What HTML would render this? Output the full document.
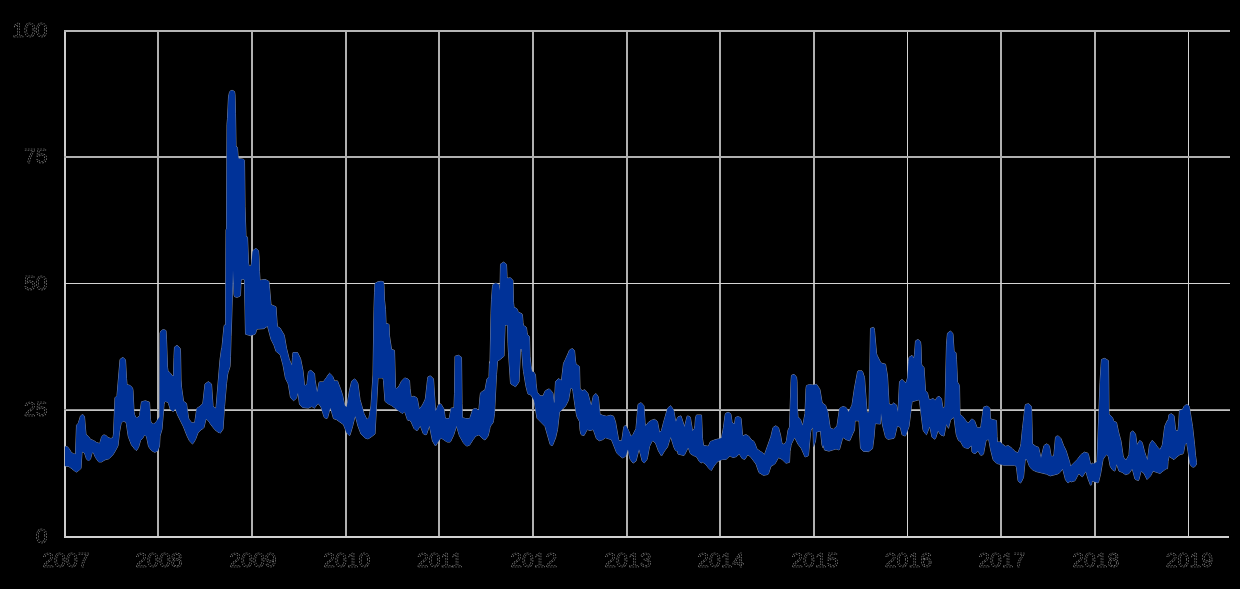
<!DOCTYPE html>
<html><head><meta charset="utf-8"><style>
html,body{margin:0;padding:0;background:#000;width:1240px;height:589px;overflow:hidden}
svg{display:block}
</style></head><body>
<svg width="1240" height="589" viewBox="0 0 1240 589">
<defs><clipPath id="pc"><rect x="65" y="0" width="1175" height="589"/></clipPath></defs>
<rect width="1240" height="589" fill="#000"/>
<rect x="64" y="30" width="2" height="508" fill="rgb(205,205,205)"/><rect x="157" y="30" width="2" height="508" fill="rgb(176,176,176)"/><rect x="251" y="30" width="2" height="508" fill="rgb(176,176,176)"/><rect x="345" y="30" width="2" height="508" fill="rgb(176,176,176)"/><rect x="438" y="30" width="2" height="508" fill="rgb(176,176,176)"/><rect x="532" y="30" width="2" height="508" fill="rgb(176,176,176)"/><rect x="626" y="30" width="2" height="508" fill="rgb(176,176,176)"/><rect x="719" y="30" width="2" height="508" fill="rgb(176,176,176)"/><rect x="813" y="30" width="2" height="508" fill="rgb(176,176,176)"/><rect x="907" y="30" width="1" height="508" fill="rgb(212,212,212)"/><rect x="1000" y="30" width="2" height="508" fill="rgb(176,176,176)"/><rect x="1094" y="30" width="2" height="508" fill="rgb(176,176,176)"/><rect x="1188" y="30" width="1" height="508" fill="rgb(212,212,212)"/><rect x="64" y="30" width="1166" height="2" fill="rgb(182,182,182)"/><rect x="64" y="156" width="1166" height="2" fill="rgb(175,175,175)"/><rect x="64" y="283" width="1166" height="1" fill="rgb(212,212,212)"/><rect x="64" y="409" width="1166" height="1" fill="rgb(150,150,150)"/><rect x="64" y="410" width="1166" height="1" fill="rgb(195,195,195)"/><rect x="64" y="536" width="1165" height="2" fill="rgb(208,208,208)"/>

<path d="M65.0,446.6 L67.0,446.6 L69.0,448.5 L71.0,452.0 L71.5,452.6 L73.5,453.8 L75.5,454.3 L76.5,425.3 L78.0,423.6 L78.5,422.6 L80.5,416.0 L82.5,414.5 L84.0,415.7 L84.5,416.9 L86.0,434.5 L88.5,436.5 L90.5,439.4 L93.5,440.5 L96.5,442.5 L99.5,443.5 L100.0,442.6 L101.5,437.3 L102.0,436.3 L103.5,435.1 L104.0,434.9 L105.5,435.4 L106.0,435.6 L108.0,437.5 L110.5,438.4 L111.0,438.5 L113.0,437.6 L113.5,434.1 L115.0,397.8 L117.0,395.8 L120.0,360.0 L120.5,358.9 L123.0,357.5 L123.5,357.8 L125.5,360.0 L126.5,378.5 L127.0,384.6 L130.0,385.5 L130.5,385.8 L132.5,388.1 L133.0,390.4 L134.0,411.3 L134.5,414.7 L136.0,417.5 L136.5,418.1 L139.0,416.4 L139.5,415.6 L141.5,401.8 L145.5,400.8 L146.0,401.0 L149.5,402.2 L150.5,419.6 L151.0,422.5 L153.5,424.1 L154.0,423.9 L156.5,421.4 L159.5,416.9 L160.0,333.1 L161.0,331.0 L161.5,330.5 L163.5,329.5 L166.0,330.6 L166.5,339.1 L167.5,367.2 L168.0,371.1 L170.0,372.7 L172.5,375.9 L173.5,375.9 L174.0,357.5 L174.5,347.1 L177.0,345.4 L180.0,348.0 L180.5,350.9 L181.0,380.0 L181.5,387.1 L183.5,401.3 L186.5,403.4 L188.5,417.9 L189.0,419.2 L191.5,422.5 L192.0,422.8 L194.5,422.8 L195.0,420.8 L196.5,410.3 L197.0,408.3 L200.0,406.3 L202.5,403.8 L203.0,402.1 L205.0,384.0 L208.0,381.9 L208.5,381.7 L211.5,384.0 L213.0,405.8 L213.5,406.8 L216.0,408.4 L220.0,359.8 L221.5,349.0 L222.0,347.3 L224.0,326.6 L224.5,325.0 L225.5,325.0 L226.0,229.4 L226.5,229.2 L227.0,124.7 L227.5,118.4 L228.5,96.9 L229.5,92.3 L230.0,91.3 L232.0,90.2 L234.5,91.5 L235.0,94.7 L235.5,113.2 L236.0,146.2 L237.0,146.9 L237.5,148.4 L238.0,155.3 L238.5,158.4 L243.5,159.3 L244.5,160.3 L245.0,206.2 L246.0,236.6 L247.5,237.1 L248.5,263.1 L249.0,266.1 L251.0,266.1 L251.5,263.4 L252.5,252.7 L253.0,250.6 L255.5,248.6 L256.0,248.6 L258.5,250.6 L259.0,257.0 L259.5,271.5 L260.0,280.3 L265.0,279.4 L268.5,281.1 L269.0,281.7 L271.0,304.7 L276.0,306.8 L277.0,322.1 L277.5,326.7 L280.0,328.0 L284.0,334.8 L284.5,336.7 L286.5,348.3 L289.0,358.3 L289.5,360.0 L292.0,365.5 L292.5,357.4 L293.0,352.5 L297.5,352.5 L300.5,358.5 L303.0,370.9 L304.5,385.0 L305.0,385.8 L307.0,384.1 L308.0,374.6 L308.5,371.7 L310.5,370.4 L311.0,370.5 L314.5,373.5 L315.0,379.7 L317.0,392.3 L317.5,391.1 L319.0,382.8 L319.5,381.9 L323.0,381.9 L323.5,381.6 L326.5,377.5 L329.0,373.7 L329.5,373.3 L332.5,376.1 L334.5,380.9 L337.5,380.9 L340.5,388.9 L342.5,394.9 L344.5,404.7 L345.0,405.7 L346.5,407.2 L347.0,405.4 L349.5,390.4 L351.5,381.9 L352.0,380.8 L354.5,379.1 L355.0,379.1 L357.5,382.5 L358.0,384.1 L360.0,399.6 L364.0,413.6 L367.0,419.6 L369.0,417.6 L371.0,406.0 L373.0,375.0 L374.0,309.2 L374.5,292.8 L375.0,283.5 L377.5,281.9 L381.0,281.3 L383.5,281.8 L384.0,285.9 L384.5,300.2 L385.5,309.7 L386.0,323.5 L388.5,324.0 L389.0,324.8 L389.5,335.9 L391.5,349.4 L394.5,350.4 L395.5,387.6 L396.0,388.8 L398.5,387.1 L401.5,381.2 L404.5,378.1 L405.0,378.0 L408.0,379.1 L409.5,380.5 L410.0,388.3 L411.0,396.3 L411.5,397.1 L414.0,396.2 L417.0,398.1 L417.5,399.8 L419.0,408.0 L419.5,409.1 L422.5,405.0 L425.0,400.0 L425.5,398.0 L427.5,379.7 L428.0,376.8 L430.5,375.9 L433.5,378.9 L435.5,410.7 L436.0,410.4 L438.5,404.6 L439.0,404.5 L439.5,404.6 L440.5,403.9 L441.0,404.1 L444.0,409.1 L445.0,416.7 L445.5,418.6 L449.0,418.6 L449.5,417.2 L451.0,408.3 L454.0,407.5 L454.5,393.3 L455.0,356.3 L458.5,355.3 L461.5,357.3 L462.0,403.5 L462.5,417.7 L465.5,418.5 L469.5,418.6 L470.0,417.7 L472.5,410.2 L473.0,409.3 L475.5,408.5 L476.0,408.5 L478.5,410.2 L479.0,408.9 L480.0,396.8 L480.5,392.9 L483.0,391.0 L485.0,390.0 L487.0,379.0 L489.0,376.8 L489.5,361.7 L490.0,363.8 L491.0,313.9 L491.5,299.8 L492.5,286.3 L493.0,284.4 L495.5,283.3 L496.0,283.2 L499.0,284.4 L500.0,290.7 L500.5,264.1 L503.5,262.2 L506.0,263.8 L506.5,264.7 L507.0,276.4 L507.5,278.3 L510.5,277.8 L512.5,279.9 L513.0,280.7 L513.5,302.4 L514.0,307.2 L517.0,308.8 L517.5,309.8 L518.0,311.7 L518.5,312.2 L522.0,313.9 L522.5,316.0 L523.0,322.8 L523.5,325.5 L526.0,327.0 L526.5,327.9 L527.0,332.2 L527.5,334.7 L529.0,336.0 L529.5,336.9 L530.0,356.2 L531.0,365.9 L532.0,371.5 L534.0,372.2 L535.5,375.0 L536.0,383.1 L537.0,391.6 L537.5,392.5 L540.0,395.8 L543.0,395.9 L545.0,391.3 L545.5,390.7 L549.0,388.9 L549.5,389.1 L552.5,392.4 L553.0,393.7 L554.0,403.0 L554.5,402.2 L555.5,381.5 L558.5,378.7 L561.0,380.3 L561.5,380.4 L563.5,363.4 L565.5,359.3 L569.5,350.2 L570.0,349.6 L572.5,348.7 L573.0,349.0 L574.5,350.5 L575.5,361.1 L576.0,364.1 L579.5,366.6 L580.0,388.2 L582.0,390.7 L585.0,389.8 L588.0,393.6 L591.0,405.1 L591.5,404.8 L593.0,397.3 L593.5,395.7 L596.0,393.6 L598.0,396.4 L598.5,398.4 L600.0,414.2 L602.5,415.3 L606.5,416.3 L610.5,415.3 L613.5,416.2 L615.5,421.9 L618.5,439.3 L619.0,440.7 L621.5,440.7 L622.0,439.2 L623.5,428.7 L624.0,426.4 L625.5,425.6 L626.0,425.7 L628.5,430.5 L631.0,436.6 L633.0,434.6 L636.0,428.6 L638.0,405.0 L638.5,403.9 L641.0,402.7 L641.5,403.0 L644.0,405.9 L645.0,422.3 L645.5,426.1 L648.5,422.2 L651.5,420.3 L654.5,419.4 L657.0,421.1 L657.5,421.8 L659.5,432.5 L661.5,430.5 L663.5,422.6 L667.5,408.5 L668.0,407.8 L670.5,405.8 L671.0,406.2 L673.5,409.8 L674.0,411.8 L675.5,420.8 L676.0,421.7 L677.5,417.6 L678.0,416.9 L681.0,415.9 L684.5,426.9 L687.0,416.7 L687.5,415.9 L690.0,416.8 L690.5,418.3 L692.5,431.0 L694.5,428.4 L695.0,425.1 L695.5,418.0 L696.5,415.0 L701.5,415.0 L702.5,438.7 L703.5,445.4 L708.0,446.3 L708.5,446.1 L710.0,442.4 L710.5,441.6 L715.0,439.8 L718.5,438.9 L721.5,437.9 L723.5,427.5 L725.0,415.5 L725.5,413.5 L728.0,412.2 L730.5,413.5 L731.0,414.8 L732.0,421.9 L732.5,423.1 L734.5,423.9 L735.5,417.5 L738.0,416.6 L738.5,416.6 L741.0,418.2 L742.5,434.7 L743.0,435.9 L745.5,434.7 L746.0,434.7 L748.5,436.0 L751.5,439.9 L754.0,441.5 L754.5,442.5 L757.0,449.1 L762.5,452.8 L764.5,454.7 L771.0,436.2 L773.0,427.6 L775.5,425.9 L776.0,426.0 L778.5,427.7 L780.5,435.0 L782.0,443.6 L784.0,444.4 L786.0,442.1 L786.5,440.6 L788.0,430.2 L789.5,427.2 L791.0,381.9 L791.5,375.3 L794.0,374.4 L794.5,374.7 L796.5,377.2 L797.0,381.4 L797.5,409.7 L798.0,417.1 L800.0,418.7 L800.5,419.4 L802.5,425.4 L803.0,424.3 L805.0,413.5 L806.0,388.5 L806.5,385.6 L809.5,384.6 L813.0,385.1 L816.5,384.3 L819.5,388.7 L820.0,390.0 L822.0,402.0 L822.5,403.2 L825.5,405.2 L827.5,411.0 L828.0,412.9 L830.0,426.9 L830.5,428.3 L833.5,429.3 L837.0,426.0 L839.5,408.6 L842.5,406.6 L843.0,406.5 L846.0,407.5 L846.5,408.1 L848.5,412.1 L852.0,405.1 L854.5,388.0 L857.5,372.0 L858.0,370.9 L862.0,370.9 L862.5,371.5 L864.5,377.5 L867.0,412.2 L869.0,412.2 L870.5,328.4 L873.5,327.4 L874.0,327.9 L874.5,330.4 L876.5,353.4 L877.0,355.2 L880.0,361.2 L881.0,362.7 L881.5,363.2 L885.5,364.2 L887.5,376.0 L889.0,404.0 L892.0,405.0 L893.0,403.4 L893.5,403.0 L896.5,405.0 L898.0,412.2 L899.5,381.8 L902.0,379.3 L904.5,382.0 L906.0,382.9 L907.5,377.9 L908.5,361.7 L909.0,357.4 L912.0,355.4 L914.0,358.3 L914.5,354.7 L915.5,340.9 L918.0,339.5 L920.5,341.7 L921.0,346.2 L921.5,363.7 L922.0,365.7 L924.0,367.3 L925.5,390.9 L927.5,392.9 L929.0,399.3 L929.5,399.6 L931.0,399.5 L933.0,398.5 L935.0,400.4 L935.5,400.2 L937.0,397.4 L939.0,396.4 L939.5,396.5 L941.0,398.0 L941.5,398.9 L943.0,408.4 L945.0,406.4 L946.5,344.1 L947.5,333.2 L950.0,331.3 L950.5,331.2 L952.5,332.9 L953.0,334.4 L954.0,350.4 L954.5,351.4 L956.0,352.9 L956.5,359.8 L957.5,382.1 L959.5,385.5 L960.0,414.6 L962.5,416.3 L966.0,420.9 L968.0,422.9 L968.5,423.0 L971.5,419.2 L972.0,419.0 L974.5,420.8 L977.0,427.4 L977.5,427.8 L980.5,427.8 L981.0,425.4 L983.5,407.2 L987.0,406.1 L989.5,407.8 L990.0,408.9 L990.5,418.9 L996.5,420.6 L997.0,436.4 L997.5,442.0 L1000.0,442.0 L1000.5,442.2 L1003.0,444.7 L1005.5,446.4 L1008.0,445.7 L1008.5,445.7 L1012.0,448.4 L1015.5,451.9 L1018.0,452.7 L1020.5,446.4 L1021.0,443.6 L1022.5,428.6 L1025.0,406.8 L1025.5,404.5 L1028.5,403.8 L1029.0,403.9 L1031.5,406.5 L1032.5,443.9 L1036.0,446.5 L1038.5,447.3 L1041.0,457.9 L1044.0,445.6 L1046.5,443.9 L1047.0,444.1 L1049.0,445.4 L1049.5,446.7 L1051.0,455.7 L1051.5,456.3 L1053.5,456.3 L1054.0,453.9 L1055.5,437.4 L1056.0,436.5 L1058.0,435.9 L1058.5,436.1 L1061.0,438.7 L1063.5,445.4 L1066.0,450.4 L1069.5,461.8 L1070.5,466.3 L1077.5,459.3 L1081.0,454.6 L1084.5,452.2 L1088.0,453.3 L1088.5,454.7 L1090.5,463.7 L1091.0,464.3 L1091.5,464.6 L1092.0,462.9 L1093.5,463.9 L1097.0,461.7 L1100.0,382.7 L1101.0,366.1 L1101.5,359.5 L1104.5,358.4 L1105.0,358.5 L1108.5,360.7 L1109.0,414.1 L1112.5,417.6 L1113.5,420.5 L1114.0,421.3 L1116.5,422.4 L1118.5,431.9 L1121.0,441.2 L1123.0,455.2 L1123.5,457.2 L1126.0,460.3 L1129.0,454.8 L1130.5,432.9 L1132.5,430.9 L1133.0,431.0 L1135.5,434.2 L1137.0,444.9 L1139.5,440.8 L1140.0,440.4 L1142.0,442.4 L1142.5,443.7 L1144.5,451.7 L1147.0,459.1 L1147.5,460.0 L1149.5,444.7 L1152.0,440.5 L1152.5,440.6 L1155.5,444.1 L1157.5,447.1 L1160.0,449.7 L1162.0,445.8 L1162.5,444.2 L1164.5,428.2 L1165.0,425.5 L1167.5,420.2 L1168.0,420.8 L1169.0,414.6 L1171.5,413.8 L1174.0,415.7 L1175.5,429.2 L1176.0,430.8 L1178.0,430.8 L1178.5,426.1 L1179.5,410.4 L1182.5,409.5 L1184.0,406.5 L1184.5,405.9 L1186.5,404.6 L1187.0,404.6 L1189.0,406.0 L1189.5,407.6 L1192.5,426.4 L1194.5,444.2 L1195.5,455.4 L1196.5,462.6 L1196.5,464.0 L1195.0,466.5 L1193.0,467.2 L1192.5,467.1 L1190.5,465.1 L1190.0,464.0 L1187.0,444.6 L1186.5,442.9 L1185.0,444.5 L1183.5,452.7 L1183.0,453.8 L1180.0,454.5 L1176.5,457.1 L1174.0,459.6 L1169.0,456.3 L1168.0,461.6 L1167.5,468.7 L1166.0,468.7 L1160.0,473.4 L1153.0,471.1 L1150.5,475.9 L1147.0,479.4 L1144.0,473.3 L1141.5,471.4 L1141.0,471.2 L1139.0,479.2 L1138.5,480.5 L1135.5,479.5 L1135.0,479.0 L1132.5,469.6 L1132.0,469.1 L1129.0,473.5 L1125.5,474.6 L1122.0,472.2 L1119.0,471.1 L1117.0,465.2 L1116.5,464.3 L1115.0,470.8 L1114.5,470.9 L1112.5,469.8 L1110.5,466.8 L1110.0,465.3 L1108.5,456.8 L1107.0,454.9 L1106.5,454.6 L1104.5,457.1 L1103.0,459.5 L1100.5,474.2 L1098.5,482.2 L1098.0,482.8 L1092.0,481.1 L1091.5,484.8 L1090.5,485.2 L1088.0,478.8 L1086.0,471.8 L1085.5,471.7 L1082.5,476.7 L1082.0,476.8 L1079.0,473.8 L1078.5,473.9 L1075.0,480.7 L1071.5,481.8 L1070.0,481.3 L1068.0,483.0 L1065.5,479.7 L1063.0,470.0 L1062.5,469.0 L1060.0,472.4 L1057.5,474.0 L1050.5,475.8 L1050.0,475.8 L1046.5,474.1 L1036.0,471.5 L1032.5,469.7 L1030.0,467.3 L1029.5,466.4 L1027.0,459.8 L1025.5,459.1 L1025.0,461.7 L1023.5,477.4 L1021.0,482.6 L1020.5,482.8 L1018.5,481.5 L1018.0,480.2 L1016.5,467.4 L1016.0,465.9 L1014.5,465.2 L1004.0,465.2 L997.0,463.5 L996.5,463.2 L993.5,460.2 L993.0,459.2 L990.5,449.2 L989.0,440.9 L988.5,439.4 L986.5,440.1 L986.0,440.5 L983.5,453.8 L983.0,454.6 L981.0,455.3 L980.5,455.1 L978.0,451.0 L975.5,453.5 L975.0,453.5 L973.0,452.8 L972.5,452.5 L972.0,451.8 L971.5,445.5 L968.5,448.3 L968.0,448.4 L964.0,447.4 L963.5,446.9 L960.0,440.7 L959.5,441.2 L958.5,440.5 L956.5,435.6 L956.0,433.0 L954.0,417.3 L951.0,419.3 L950.5,420.3 L948.5,428.3 L946.5,424.3 L946.0,425.5 L944.0,436.0 L941.0,435.0 L940.5,434.5 L938.0,430.7 L935.5,438.5 L935.0,439.2 L932.0,437.2 L930.0,427.5 L929.5,426.7 L926.5,434.7 L926.0,434.4 L923.5,431.0 L923.0,429.7 L919.5,401.0 L919.0,399.7 L912.5,401.6 L912.0,402.1 L909.0,426.5 L905.5,435.8 L905.0,435.9 L902.5,435.1 L902.0,434.5 L900.5,427.9 L900.0,427.1 L897.5,426.2 L897.0,427.1 L894.5,437.7 L894.0,438.3 L888.0,439.3 L887.5,439.1 L885.5,437.0 L882.5,425.0 L881.0,413.0 L880.5,424.0 L875.5,423.5 L875.0,424.8 L874.0,437.2 L872.5,448.7 L868.5,451.6 L863.5,451.3 L863.0,451.1 L860.5,448.0 L859.0,420.8 L855.0,420.8 L854.5,430.1 L853.0,433.1 L850.0,440.1 L849.5,440.8 L846.0,439.5 L843.0,437.5 L842.5,438.5 L839.5,449.5 L839.0,449.9 L836.0,448.9 L829.0,451.1 L824.5,450.0 L823.5,444.9 L823.0,447.7 L822.0,445.0 L820.5,431.0 L816.5,432.0 L815.5,441.0 L813.5,447.0 L813.0,427.4 L811.0,430.1 L810.5,432.7 L808.5,454.7 L808.0,455.9 L805.0,456.9 L801.5,448.8 L798.0,444.1 L795.0,438.1 L794.5,437.7 L791.5,443.7 L791.0,445.5 L790.0,451.5 L789.5,462.3 L786.0,463.2 L782.0,459.3 L778.5,457.6 L775.0,463.7 L774.5,464.2 L771.0,466.1 L768.5,473.6 L768.0,474.4 L763.5,475.3 L759.0,472.6 L756.0,464.0 L750.5,456.7 L750.0,456.3 L748.0,455.0 L747.5,455.0 L745.0,459.2 L744.5,459.3 L742.0,458.4 L739.5,454.2 L739.0,454.1 L736.5,456.6 L736.0,456.7 L733.0,457.5 L732.5,457.4 L730.0,455.8 L726.0,459.4 L722.5,459.4 L719.5,460.5 L717.0,462.1 L716.5,462.7 L714.0,466.0 L711.5,470.2 L711.0,470.4 L708.5,467.9 L705.5,464.0 L702.0,461.7 L701.5,463.0 L699.5,461.7 L696.5,456.8 L696.0,456.4 L693.5,455.6 L690.5,453.7 L690.0,452.7 L688.5,448.2 L688.0,447.8 L684.5,454.8 L684.0,455.5 L678.0,454.0 L677.5,450.9 L676.0,450.9 L675.5,450.4 L674.0,447.4 L671.0,437.8 L670.5,437.2 L667.5,447.0 L664.5,451.0 L661.5,456.0 L658.5,451.0 L655.5,443.0 L655.0,442.5 L652.5,440.8 L652.0,441.4 L649.5,446.4 L647.5,457.5 L647.0,459.4 L644.5,462.7 L644.0,462.9 L642.5,461.4 L642.0,460.5 L639.5,450.5 L639.0,449.3 L636.0,461.1 L633.0,463.1 L630.0,459.1 L628.0,449.4 L627.5,450.3 L626.0,455.5 L625.5,456.2 L623.0,457.9 L622.5,457.8 L620.0,456.2 L617.0,453.2 L616.5,452.4 L611.5,439.7 L605.5,437.7 L602.5,439.7 L599.5,440.7 L599.0,440.5 L596.5,438.8 L593.5,430.2 L593.0,429.6 L590.0,430.5 L587.5,429.6 L587.0,429.9 L584.0,435.6 L581.5,434.8 L581.0,434.4 L580.0,429.7 L579.5,421.5 L577.0,416.8 L576.5,414.8 L575.0,405.8 L573.0,391.3 L572.5,388.7 L571.0,388.0 L570.5,388.6 L568.5,400.2 L565.5,406.1 L559.5,412.1 L557.5,429.6 L555.5,438.1 L552.5,445.4 L552.0,445.7 L550.5,444.9 L550.0,443.9 L545.0,426.3 L537.0,418.2 L534.0,400.2 L531.0,395.0 L528.0,393.9 L527.5,392.4 L526.0,386.4 L523.5,371.4 L523.0,366.9 L522.0,352.6 L521.5,349.1 L520.5,349.1 L519.0,381.8 L516.0,386.2 L515.5,386.7 L511.0,384.0 L510.5,382.9 L508.5,352.9 L508.0,343.2 L507.5,325.2 L507.0,325.0 L505.5,325.0 L505.0,326.6 L504.0,356.2 L500.5,359.1 L497.5,361.2 L496.5,374.3 L494.5,413.4 L493.5,420.5 L493.0,422.7 L490.5,426.0 L490.0,427.0 L489.5,430.2 L488.0,436.0 L485.0,440.0 L482.0,438.0 L479.0,435.0 L478.5,435.0 L476.0,435.9 L475.5,436.3 L473.0,439.7 L469.5,445.2 L467.0,446.0 L466.5,446.0 L463.5,442.9 L459.5,435.9 L456.5,426.0 L453.5,435.5 L450.5,441.7 L450.0,442.0 L447.5,442.0 L447.0,441.9 L441.5,438.2 L441.0,438.1 L440.0,439.5 L439.5,439.5 L435.5,446.0 L432.5,441.0 L429.5,426.0 L429.0,427.0 L426.5,434.5 L426.0,434.8 L423.5,433.9 L423.0,433.0 L420.5,426.3 L420.0,426.2 L417.5,430.3 L417.0,430.7 L414.5,429.0 L414.0,428.4 L411.0,421.6 L410.0,420.9 L409.5,419.8 L408.0,420.5 L407.5,419.9 L405.0,412.4 L404.5,411.7 L403.0,413.2 L402.5,413.4 L399.5,411.4 L391.5,405.4 L387.5,403.4 L385.0,401.3 L383.5,380.5 L383.0,377.9 L378.5,377.9 L378.0,378.3 L375.0,434.0 L371.0,437.0 L368.0,438.9 L365.0,437.9 L361.0,434.0 L358.0,426.1 L355.5,416.6 L355.0,416.4 L352.5,426.6 L350.0,435.0 L349.5,435.7 L347.0,433.2 L346.5,432.4 L343.5,424.6 L336.5,419.6 L333.5,418.6 L330.5,407.9 L330.0,408.7 L327.5,417.9 L327.0,418.5 L324.5,417.7 L324.0,416.7 L321.0,407.1 L318.5,403.8 L318.0,403.5 L315.0,407.3 L314.5,408.2 L312.0,406.6 L311.5,406.6 L308.5,408.1 L303.0,407.5 L302.5,407.4 L299.5,404.3 L298.0,393.0 L297.5,393.9 L296.5,398.2 L293.5,400.7 L290.5,397.5 L288.5,385.2 L288.0,383.4 L285.5,378.4 L283.0,364.9 L280.5,355.7 L280.0,354.4 L276.5,351.8 L276.0,351.2 L274.0,345.2 L271.0,339.2 L267.5,326.1 L264.0,328.6 L257.0,329.1 L256.5,330.0 L255.5,333.5 L255.0,334.3 L250.5,335.6 L245.5,334.2 L244.5,279.9 L244.0,279.3 L241.5,279.3 L241.0,281.5 L240.5,294.7 L240.0,296.2 L237.0,297.3 L234.5,296.6 L234.0,294.6 L233.0,270.0 L231.5,325.0 L231.0,336.7 L230.5,356.7 L230.0,366.6 L228.0,372.7 L227.5,375.0 L226.5,383.5 L224.5,406.5 L223.0,429.1 L220.5,432.8 L220.0,433.2 L219.5,432.6 L219.0,432.8 L215.0,429.8 L211.0,424.8 L208.5,420.9 L206.0,418.8 L204.0,427.3 L203.5,428.1 L201.0,429.8 L198.0,432.7 L195.5,439.4 L193.0,443.6 L192.5,444.0 L189.5,440.8 L187.0,435.8 L183.5,426.8 L177.5,414.8 L175.5,408.9 L175.0,409.1 L173.5,411.3 L173.0,411.3 L170.5,409.7 L170.0,408.6 L168.5,403.3 L168.0,402.3 L165.5,401.5 L165.0,401.6 L164.5,402.1 L164.0,404.5 L162.0,429.3 L160.0,436.0 L159.5,446.0 L158.0,450.1 L157.5,450.9 L155.0,452.2 L154.5,452.2 L151.5,450.5 L149.0,447.2 L148.5,446.2 L146.5,436.4 L144.5,434.9 L142.5,438.5 L140.5,440.5 L138.5,447.4 L136.5,450.5 L136.0,450.3 L134.5,448.8 L131.5,444.9 L128.5,437.2 L128.0,434.9 L126.5,424.4 L126.0,422.1 L123.5,421.3 L123.0,421.3 L121.5,422.8 L121.0,423.8 L119.5,432.2 L118.0,445.7 L116.0,449.7 L113.0,454.7 L109.0,458.7 L105.0,459.8 L101.5,461.9 L99.0,461.9 L98.5,461.7 L95.5,457.5 L93.5,452.7 L92.5,452.4 L92.0,453.1 L90.5,458.9 L88.5,460.9 L86.5,458.9 L84.5,452.9 L82.0,451.7 L81.0,468.2 L79.5,469.9 L76.5,472.0 L76.0,471.9 L69.0,466.6 L65.0,466.0Z" fill="#003298" stroke="#8f96a8" stroke-width="0.9" stroke-linejoin="round"/><path d="M65.0,446.6 L67.0,446.6 L69.0,448.5 L71.0,452.0 L71.5,452.6 L73.5,453.8 L75.5,454.3 L76.5,425.3 L78.0,423.6 L78.5,422.6 L80.5,416.0 L82.5,414.5 L84.0,415.7 L84.5,416.9 L86.0,434.5 L88.5,436.5 L90.5,439.4 L93.5,440.5 L96.5,442.5 L99.5,443.5 L100.0,442.6 L101.5,437.3 L102.0,436.3 L103.5,435.1 L104.0,434.9 L105.5,435.4 L106.0,435.6 L108.0,437.5 L110.5,438.4 L111.0,438.5 L113.0,437.6 L113.5,434.1 L115.0,397.8 L117.0,395.8 L120.0,360.0 L120.5,358.9 L123.0,357.5 L123.5,357.8 L125.5,360.0 L126.5,378.5 L127.0,384.6 L130.0,385.5 L130.5,385.8 L132.5,388.1 L133.0,390.4 L134.0,411.3 L134.5,414.7 L136.0,417.5 L136.5,418.1 L139.0,416.4 L139.5,415.6 L141.5,401.8 L145.5,400.8 L146.0,401.0 L149.5,402.2 L150.5,419.6 L151.0,422.5 L153.5,424.1 L154.0,423.9 L156.5,421.4 L159.5,416.9 L160.0,333.1 L161.0,331.0 L161.5,330.5 L163.5,329.5 L166.0,330.6 L166.5,339.1 L167.5,367.2 L168.0,371.1 L170.0,372.7 L172.5,375.9 L173.5,375.9 L174.0,357.5 L174.5,347.1 L177.0,345.4 L180.0,348.0 L180.5,350.9 L181.0,380.0 L181.5,387.1 L183.5,401.3 L186.5,403.4 L188.5,417.9 L189.0,419.2 L191.5,422.5 L192.0,422.8 L194.5,422.8 L195.0,420.8 L196.5,410.3 L197.0,408.3 L200.0,406.3 L202.5,403.8 L203.0,402.1 L205.0,384.0 L208.0,381.9 L208.5,381.7 L211.5,384.0 L213.0,405.8 L213.5,406.8 L216.0,408.4 L220.0,359.8 L221.5,349.0 L222.0,347.3 L224.0,326.6 L224.5,325.0 L225.5,325.0 L226.0,229.4 L226.5,229.2 L227.0,124.7 L227.5,118.4 L228.5,96.9 L229.5,92.3 L230.0,91.3 L232.0,90.2 L234.5,91.5 L235.0,94.7 L235.5,113.2 L236.0,146.2 L237.0,146.9 L237.5,148.4 L238.0,155.3 L238.5,158.4 L243.5,159.3 L244.5,160.3 L245.0,206.2 L246.0,236.6 L247.5,237.1 L248.5,263.1 L249.0,266.1 L251.0,266.1 L251.5,263.4 L252.5,252.7 L253.0,250.6 L255.5,248.6 L256.0,248.6 L258.5,250.6 L259.0,257.0 L259.5,271.5 L260.0,280.3 L265.0,279.4 L268.5,281.1 L269.0,281.7 L271.0,304.7 L276.0,306.8 L277.0,322.1 L277.5,326.7 L280.0,328.0 L284.0,334.8 L284.5,336.7 L286.5,348.3 L289.0,358.3 L289.5,360.0 L292.0,365.5 L292.5,357.4 L293.0,352.5 L297.5,352.5 L300.5,358.5 L303.0,370.9 L304.5,385.0 L305.0,385.8 L307.0,384.1 L308.0,374.6 L308.5,371.7 L310.5,370.4 L311.0,370.5 L314.5,373.5 L315.0,379.7 L317.0,392.3 L317.5,391.1 L319.0,382.8 L319.5,381.9 L323.0,381.9 L323.5,381.6 L326.5,377.5 L329.0,373.7 L329.5,373.3 L332.5,376.1 L334.5,380.9 L337.5,380.9 L340.5,388.9 L342.5,394.9 L344.5,404.7 L345.0,405.7 L346.5,407.2 L347.0,405.4 L349.5,390.4 L351.5,381.9 L352.0,380.8 L354.5,379.1 L355.0,379.1 L357.5,382.5 L358.0,384.1 L360.0,399.6 L364.0,413.6 L367.0,419.6 L369.0,417.6 L371.0,406.0 L373.0,375.0 L374.0,309.2 L374.5,292.8 L375.0,283.5 L377.5,281.9 L381.0,281.3 L383.5,281.8 L384.0,285.9 L384.5,300.2 L385.5,309.7 L386.0,323.5 L388.5,324.0 L389.0,324.8 L389.5,335.9 L391.5,349.4 L394.5,350.4 L395.5,387.6 L396.0,388.8 L398.5,387.1 L401.5,381.2 L404.5,378.1 L405.0,378.0 L408.0,379.1 L409.5,380.5 L410.0,388.3 L411.0,396.3 L411.5,397.1 L414.0,396.2 L417.0,398.1 L417.5,399.8 L419.0,408.0 L419.5,409.1 L422.5,405.0 L425.0,400.0 L425.5,398.0 L427.5,379.7 L428.0,376.8 L430.5,375.9 L433.5,378.9 L435.5,410.7 L436.0,410.4 L438.5,404.6 L439.0,404.5 L439.5,404.6 L440.5,403.9 L441.0,404.1 L444.0,409.1 L445.0,416.7 L445.5,418.6 L449.0,418.6 L449.5,417.2 L451.0,408.3 L454.0,407.5 L454.5,393.3 L455.0,356.3 L458.5,355.3 L461.5,357.3 L462.0,403.5 L462.5,417.7 L465.5,418.5 L469.5,418.6 L470.0,417.7 L472.5,410.2 L473.0,409.3 L475.5,408.5 L476.0,408.5 L478.5,410.2 L479.0,408.9 L480.0,396.8 L480.5,392.9 L483.0,391.0 L485.0,390.0 L487.0,379.0 L489.0,376.8 L489.5,361.7 L490.0,363.8 L491.0,313.9 L491.5,299.8 L492.5,286.3 L493.0,284.4 L495.5,283.3 L496.0,283.2 L499.0,284.4 L500.0,290.7 L500.5,264.1 L503.5,262.2 L506.0,263.8 L506.5,264.7 L507.0,276.4 L507.5,278.3 L510.5,277.8 L512.5,279.9 L513.0,280.7 L513.5,302.4 L514.0,307.2 L517.0,308.8 L517.5,309.8 L518.0,311.7 L518.5,312.2 L522.0,313.9 L522.5,316.0 L523.0,322.8 L523.5,325.5 L526.0,327.0 L526.5,327.9 L527.0,332.2 L527.5,334.7 L529.0,336.0 L529.5,336.9 L530.0,356.2 L531.0,365.9 L532.0,371.5 L534.0,372.2 L535.5,375.0 L536.0,383.1 L537.0,391.6 L537.5,392.5 L540.0,395.8 L543.0,395.9 L545.0,391.3 L545.5,390.7 L549.0,388.9 L549.5,389.1 L552.5,392.4 L553.0,393.7 L554.0,403.0 L554.5,402.2 L555.5,381.5 L558.5,378.7 L561.0,380.3 L561.5,380.4 L563.5,363.4 L565.5,359.3 L569.5,350.2 L570.0,349.6 L572.5,348.7 L573.0,349.0 L574.5,350.5 L575.5,361.1 L576.0,364.1 L579.5,366.6 L580.0,388.2 L582.0,390.7 L585.0,389.8 L588.0,393.6 L591.0,405.1 L591.5,404.8 L593.0,397.3 L593.5,395.7 L596.0,393.6 L598.0,396.4 L598.5,398.4 L600.0,414.2 L602.5,415.3 L606.5,416.3 L610.5,415.3 L613.5,416.2 L615.5,421.9 L618.5,439.3 L619.0,440.7 L621.5,440.7 L622.0,439.2 L623.5,428.7 L624.0,426.4 L625.5,425.6 L626.0,425.7 L628.5,430.5 L631.0,436.6 L633.0,434.6 L636.0,428.6 L638.0,405.0 L638.5,403.9 L641.0,402.7 L641.5,403.0 L644.0,405.9 L645.0,422.3 L645.5,426.1 L648.5,422.2 L651.5,420.3 L654.5,419.4 L657.0,421.1 L657.5,421.8 L659.5,432.5 L661.5,430.5 L663.5,422.6 L667.5,408.5 L668.0,407.8 L670.5,405.8 L671.0,406.2 L673.5,409.8 L674.0,411.8 L675.5,420.8 L676.0,421.7 L677.5,417.6 L678.0,416.9 L681.0,415.9 L684.5,426.9 L687.0,416.7 L687.5,415.9 L690.0,416.8 L690.5,418.3 L692.5,431.0 L694.5,428.4 L695.0,425.1 L695.5,418.0 L696.5,415.0 L701.5,415.0 L702.5,438.7 L703.5,445.4 L708.0,446.3 L708.5,446.1 L710.0,442.4 L710.5,441.6 L715.0,439.8 L718.5,438.9 L721.5,437.9 L723.5,427.5 L725.0,415.5 L725.5,413.5 L728.0,412.2 L730.5,413.5 L731.0,414.8 L732.0,421.9 L732.5,423.1 L734.5,423.9 L735.5,417.5 L738.0,416.6 L738.5,416.6 L741.0,418.2 L742.5,434.7 L743.0,435.9 L745.5,434.7 L746.0,434.7 L748.5,436.0 L751.5,439.9 L754.0,441.5 L754.5,442.5 L757.0,449.1 L762.5,452.8 L764.5,454.7 L771.0,436.2 L773.0,427.6 L775.5,425.9 L776.0,426.0 L778.5,427.7 L780.5,435.0 L782.0,443.6 L784.0,444.4 L786.0,442.1 L786.5,440.6 L788.0,430.2 L789.5,427.2 L791.0,381.9 L791.5,375.3 L794.0,374.4 L794.5,374.7 L796.5,377.2 L797.0,381.4 L797.5,409.7 L798.0,417.1 L800.0,418.7 L800.5,419.4 L802.5,425.4 L803.0,424.3 L805.0,413.5 L806.0,388.5 L806.5,385.6 L809.5,384.6 L813.0,385.1 L816.5,384.3 L819.5,388.7 L820.0,390.0 L822.0,402.0 L822.5,403.2 L825.5,405.2 L827.5,411.0 L828.0,412.9 L830.0,426.9 L830.5,428.3 L833.5,429.3 L837.0,426.0 L839.5,408.6 L842.5,406.6 L843.0,406.5 L846.0,407.5 L846.5,408.1 L848.5,412.1 L852.0,405.1 L854.5,388.0 L857.5,372.0 L858.0,370.9 L862.0,370.9 L862.5,371.5 L864.5,377.5 L867.0,412.2 L869.0,412.2 L870.5,328.4 L873.5,327.4 L874.0,327.9 L874.5,330.4 L876.5,353.4 L877.0,355.2 L880.0,361.2 L881.0,362.7 L881.5,363.2 L885.5,364.2 L887.5,376.0 L889.0,404.0 L892.0,405.0 L893.0,403.4 L893.5,403.0 L896.5,405.0 L898.0,412.2 L899.5,381.8 L902.0,379.3 L904.5,382.0 L906.0,382.9 L907.5,377.9 L908.5,361.7 L909.0,357.4 L912.0,355.4 L914.0,358.3 L914.5,354.7 L915.5,340.9 L918.0,339.5 L920.5,341.7 L921.0,346.2 L921.5,363.7 L922.0,365.7 L924.0,367.3 L925.5,390.9 L927.5,392.9 L929.0,399.3 L929.5,399.6 L931.0,399.5 L933.0,398.5 L935.0,400.4 L935.5,400.2 L937.0,397.4 L939.0,396.4 L939.5,396.5 L941.0,398.0 L941.5,398.9 L943.0,408.4 L945.0,406.4 L946.5,344.1 L947.5,333.2 L950.0,331.3 L950.5,331.2 L952.5,332.9 L953.0,334.4 L954.0,350.4 L954.5,351.4 L956.0,352.9 L956.5,359.8 L957.5,382.1 L959.5,385.5 L960.0,414.6 L962.5,416.3 L966.0,420.9 L968.0,422.9 L968.5,423.0 L971.5,419.2 L972.0,419.0 L974.5,420.8 L977.0,427.4 L977.5,427.8 L980.5,427.8 L981.0,425.4 L983.5,407.2 L987.0,406.1 L989.5,407.8 L990.0,408.9 L990.5,418.9 L996.5,420.6 L997.0,436.4 L997.5,442.0 L1000.0,442.0 L1000.5,442.2 L1003.0,444.7 L1005.5,446.4 L1008.0,445.7 L1008.5,445.7 L1012.0,448.4 L1015.5,451.9 L1018.0,452.7 L1020.5,446.4 L1021.0,443.6 L1022.5,428.6 L1025.0,406.8 L1025.5,404.5 L1028.5,403.8 L1029.0,403.9 L1031.5,406.5 L1032.5,443.9 L1036.0,446.5 L1038.5,447.3 L1041.0,457.9 L1044.0,445.6 L1046.5,443.9 L1047.0,444.1 L1049.0,445.4 L1049.5,446.7 L1051.0,455.7 L1051.5,456.3 L1053.5,456.3 L1054.0,453.9 L1055.5,437.4 L1056.0,436.5 L1058.0,435.9 L1058.5,436.1 L1061.0,438.7 L1063.5,445.4 L1066.0,450.4 L1069.5,461.8 L1070.5,466.3 L1077.5,459.3 L1081.0,454.6 L1084.5,452.2 L1088.0,453.3 L1088.5,454.7 L1090.5,463.7 L1091.0,464.3 L1091.5,464.6 L1092.0,462.9 L1093.5,463.9 L1097.0,461.7 L1100.0,382.7 L1101.0,366.1 L1101.5,359.5 L1104.5,358.4 L1105.0,358.5 L1108.5,360.7 L1109.0,414.1 L1112.5,417.6 L1113.5,420.5 L1114.0,421.3 L1116.5,422.4 L1118.5,431.9 L1121.0,441.2 L1123.0,455.2 L1123.5,457.2 L1126.0,460.3 L1129.0,454.8 L1130.5,432.9 L1132.5,430.9 L1133.0,431.0 L1135.5,434.2 L1137.0,444.9 L1139.5,440.8 L1140.0,440.4 L1142.0,442.4 L1142.5,443.7 L1144.5,451.7 L1147.0,459.1 L1147.5,460.0 L1149.5,444.7 L1152.0,440.5 L1152.5,440.6 L1155.5,444.1 L1157.5,447.1 L1160.0,449.7 L1162.0,445.8 L1162.5,444.2 L1164.5,428.2 L1165.0,425.5 L1167.5,420.2 L1168.0,420.8 L1169.0,414.6 L1171.5,413.8 L1174.0,415.7 L1175.5,429.2 L1176.0,430.8 L1178.0,430.8 L1178.5,426.1 L1179.5,410.4 L1182.5,409.5 L1184.0,406.5 L1184.5,405.9 L1186.5,404.6 L1187.0,404.6 L1189.0,406.0 L1189.5,407.6 L1192.5,426.4 L1194.5,444.2 L1195.5,455.4 L1196.5,462.6 L1196.5,464.0 L1195.0,466.5 L1193.0,467.2 L1192.5,467.1 L1190.5,465.1 L1190.0,464.0 L1187.0,444.6 L1186.5,442.9 L1185.0,444.5 L1183.5,452.7 L1183.0,453.8 L1180.0,454.5 L1176.5,457.1 L1174.0,459.6 L1169.0,456.3 L1168.0,461.6 L1167.5,468.7 L1166.0,468.7 L1160.0,473.4 L1153.0,471.1 L1150.5,475.9 L1147.0,479.4 L1144.0,473.3 L1141.5,471.4 L1141.0,471.2 L1139.0,479.2 L1138.5,480.5 L1135.5,479.5 L1135.0,479.0 L1132.5,469.6 L1132.0,469.1 L1129.0,473.5 L1125.5,474.6 L1122.0,472.2 L1119.0,471.1 L1117.0,465.2 L1116.5,464.3 L1115.0,470.8 L1114.5,470.9 L1112.5,469.8 L1110.5,466.8 L1110.0,465.3 L1108.5,456.8 L1107.0,454.9 L1106.5,454.6 L1104.5,457.1 L1103.0,459.5 L1100.5,474.2 L1098.5,482.2 L1098.0,482.8 L1092.0,481.1 L1091.5,484.8 L1090.5,485.2 L1088.0,478.8 L1086.0,471.8 L1085.5,471.7 L1082.5,476.7 L1082.0,476.8 L1079.0,473.8 L1078.5,473.9 L1075.0,480.7 L1071.5,481.8 L1070.0,481.3 L1068.0,483.0 L1065.5,479.7 L1063.0,470.0 L1062.5,469.0 L1060.0,472.4 L1057.5,474.0 L1050.5,475.8 L1050.0,475.8 L1046.5,474.1 L1036.0,471.5 L1032.5,469.7 L1030.0,467.3 L1029.5,466.4 L1027.0,459.8 L1025.5,459.1 L1025.0,461.7 L1023.5,477.4 L1021.0,482.6 L1020.5,482.8 L1018.5,481.5 L1018.0,480.2 L1016.5,467.4 L1016.0,465.9 L1014.5,465.2 L1004.0,465.2 L997.0,463.5 L996.5,463.2 L993.5,460.2 L993.0,459.2 L990.5,449.2 L989.0,440.9 L988.5,439.4 L986.5,440.1 L986.0,440.5 L983.5,453.8 L983.0,454.6 L981.0,455.3 L980.5,455.1 L978.0,451.0 L975.5,453.5 L975.0,453.5 L973.0,452.8 L972.5,452.5 L972.0,451.8 L971.5,445.5 L968.5,448.3 L968.0,448.4 L964.0,447.4 L963.5,446.9 L960.0,440.7 L959.5,441.2 L958.5,440.5 L956.5,435.6 L956.0,433.0 L954.0,417.3 L951.0,419.3 L950.5,420.3 L948.5,428.3 L946.5,424.3 L946.0,425.5 L944.0,436.0 L941.0,435.0 L940.5,434.5 L938.0,430.7 L935.5,438.5 L935.0,439.2 L932.0,437.2 L930.0,427.5 L929.5,426.7 L926.5,434.7 L926.0,434.4 L923.5,431.0 L923.0,429.7 L919.5,401.0 L919.0,399.7 L912.5,401.6 L912.0,402.1 L909.0,426.5 L905.5,435.8 L905.0,435.9 L902.5,435.1 L902.0,434.5 L900.5,427.9 L900.0,427.1 L897.5,426.2 L897.0,427.1 L894.5,437.7 L894.0,438.3 L888.0,439.3 L887.5,439.1 L885.5,437.0 L882.5,425.0 L881.0,413.0 L880.5,424.0 L875.5,423.5 L875.0,424.8 L874.0,437.2 L872.5,448.7 L868.5,451.6 L863.5,451.3 L863.0,451.1 L860.5,448.0 L859.0,420.8 L855.0,420.8 L854.5,430.1 L853.0,433.1 L850.0,440.1 L849.5,440.8 L846.0,439.5 L843.0,437.5 L842.5,438.5 L839.5,449.5 L839.0,449.9 L836.0,448.9 L829.0,451.1 L824.5,450.0 L823.5,444.9 L823.0,447.7 L822.0,445.0 L820.5,431.0 L816.5,432.0 L815.5,441.0 L813.5,447.0 L813.0,427.4 L811.0,430.1 L810.5,432.7 L808.5,454.7 L808.0,455.9 L805.0,456.9 L801.5,448.8 L798.0,444.1 L795.0,438.1 L794.5,437.7 L791.5,443.7 L791.0,445.5 L790.0,451.5 L789.5,462.3 L786.0,463.2 L782.0,459.3 L778.5,457.6 L775.0,463.7 L774.5,464.2 L771.0,466.1 L768.5,473.6 L768.0,474.4 L763.5,475.3 L759.0,472.6 L756.0,464.0 L750.5,456.7 L750.0,456.3 L748.0,455.0 L747.5,455.0 L745.0,459.2 L744.5,459.3 L742.0,458.4 L739.5,454.2 L739.0,454.1 L736.5,456.6 L736.0,456.7 L733.0,457.5 L732.5,457.4 L730.0,455.8 L726.0,459.4 L722.5,459.4 L719.5,460.5 L717.0,462.1 L716.5,462.7 L714.0,466.0 L711.5,470.2 L711.0,470.4 L708.5,467.9 L705.5,464.0 L702.0,461.7 L701.5,463.0 L699.5,461.7 L696.5,456.8 L696.0,456.4 L693.5,455.6 L690.5,453.7 L690.0,452.7 L688.5,448.2 L688.0,447.8 L684.5,454.8 L684.0,455.5 L678.0,454.0 L677.5,450.9 L676.0,450.9 L675.5,450.4 L674.0,447.4 L671.0,437.8 L670.5,437.2 L667.5,447.0 L664.5,451.0 L661.5,456.0 L658.5,451.0 L655.5,443.0 L655.0,442.5 L652.5,440.8 L652.0,441.4 L649.5,446.4 L647.5,457.5 L647.0,459.4 L644.5,462.7 L644.0,462.9 L642.5,461.4 L642.0,460.5 L639.5,450.5 L639.0,449.3 L636.0,461.1 L633.0,463.1 L630.0,459.1 L628.0,449.4 L627.5,450.3 L626.0,455.5 L625.5,456.2 L623.0,457.9 L622.5,457.8 L620.0,456.2 L617.0,453.2 L616.5,452.4 L611.5,439.7 L605.5,437.7 L602.5,439.7 L599.5,440.7 L599.0,440.5 L596.5,438.8 L593.5,430.2 L593.0,429.6 L590.0,430.5 L587.5,429.6 L587.0,429.9 L584.0,435.6 L581.5,434.8 L581.0,434.4 L580.0,429.7 L579.5,421.5 L577.0,416.8 L576.5,414.8 L575.0,405.8 L573.0,391.3 L572.5,388.7 L571.0,388.0 L570.5,388.6 L568.5,400.2 L565.5,406.1 L559.5,412.1 L557.5,429.6 L555.5,438.1 L552.5,445.4 L552.0,445.7 L550.5,444.9 L550.0,443.9 L545.0,426.3 L537.0,418.2 L534.0,400.2 L531.0,395.0 L528.0,393.9 L527.5,392.4 L526.0,386.4 L523.5,371.4 L523.0,366.9 L522.0,352.6 L521.5,349.1 L520.5,349.1 L519.0,381.8 L516.0,386.2 L515.5,386.7 L511.0,384.0 L510.5,382.9 L508.5,352.9 L508.0,343.2 L507.5,325.2 L507.0,325.0 L505.5,325.0 L505.0,326.6 L504.0,356.2 L500.5,359.1 L497.5,361.2 L496.5,374.3 L494.5,413.4 L493.5,420.5 L493.0,422.7 L490.5,426.0 L490.0,427.0 L489.5,430.2 L488.0,436.0 L485.0,440.0 L482.0,438.0 L479.0,435.0 L478.5,435.0 L476.0,435.9 L475.5,436.3 L473.0,439.7 L469.5,445.2 L467.0,446.0 L466.5,446.0 L463.5,442.9 L459.5,435.9 L456.5,426.0 L453.5,435.5 L450.5,441.7 L450.0,442.0 L447.5,442.0 L447.0,441.9 L441.5,438.2 L441.0,438.1 L440.0,439.5 L439.5,439.5 L435.5,446.0 L432.5,441.0 L429.5,426.0 L429.0,427.0 L426.5,434.5 L426.0,434.8 L423.5,433.9 L423.0,433.0 L420.5,426.3 L420.0,426.2 L417.5,430.3 L417.0,430.7 L414.5,429.0 L414.0,428.4 L411.0,421.6 L410.0,420.9 L409.5,419.8 L408.0,420.5 L407.5,419.9 L405.0,412.4 L404.5,411.7 L403.0,413.2 L402.5,413.4 L399.5,411.4 L391.5,405.4 L387.5,403.4 L385.0,401.3 L383.5,380.5 L383.0,377.9 L378.5,377.9 L378.0,378.3 L375.0,434.0 L371.0,437.0 L368.0,438.9 L365.0,437.9 L361.0,434.0 L358.0,426.1 L355.5,416.6 L355.0,416.4 L352.5,426.6 L350.0,435.0 L349.5,435.7 L347.0,433.2 L346.5,432.4 L343.5,424.6 L336.5,419.6 L333.5,418.6 L330.5,407.9 L330.0,408.7 L327.5,417.9 L327.0,418.5 L324.5,417.7 L324.0,416.7 L321.0,407.1 L318.5,403.8 L318.0,403.5 L315.0,407.3 L314.5,408.2 L312.0,406.6 L311.5,406.6 L308.5,408.1 L303.0,407.5 L302.5,407.4 L299.5,404.3 L298.0,393.0 L297.5,393.9 L296.5,398.2 L293.5,400.7 L290.5,397.5 L288.5,385.2 L288.0,383.4 L285.5,378.4 L283.0,364.9 L280.5,355.7 L280.0,354.4 L276.5,351.8 L276.0,351.2 L274.0,345.2 L271.0,339.2 L267.5,326.1 L264.0,328.6 L257.0,329.1 L256.5,330.0 L255.5,333.5 L255.0,334.3 L250.5,335.6 L245.5,334.2 L244.5,279.9 L244.0,279.3 L241.5,279.3 L241.0,281.5 L240.5,294.7 L240.0,296.2 L237.0,297.3 L234.5,296.6 L234.0,294.6 L233.0,270.0 L231.5,325.0 L231.0,336.7 L230.5,356.7 L230.0,366.6 L228.0,372.7 L227.5,375.0 L226.5,383.5 L224.5,406.5 L223.0,429.1 L220.5,432.8 L220.0,433.2 L219.5,432.6 L219.0,432.8 L215.0,429.8 L211.0,424.8 L208.5,420.9 L206.0,418.8 L204.0,427.3 L203.5,428.1 L201.0,429.8 L198.0,432.7 L195.5,439.4 L193.0,443.6 L192.5,444.0 L189.5,440.8 L187.0,435.8 L183.5,426.8 L177.5,414.8 L175.5,408.9 L175.0,409.1 L173.5,411.3 L173.0,411.3 L170.5,409.7 L170.0,408.6 L168.5,403.3 L168.0,402.3 L165.5,401.5 L165.0,401.6 L164.5,402.1 L164.0,404.5 L162.0,429.3 L160.0,436.0 L159.5,446.0 L158.0,450.1 L157.5,450.9 L155.0,452.2 L154.5,452.2 L151.5,450.5 L149.0,447.2 L148.5,446.2 L146.5,436.4 L144.5,434.9 L142.5,438.5 L140.5,440.5 L138.5,447.4 L136.5,450.5 L136.0,450.3 L134.5,448.8 L131.5,444.9 L128.5,437.2 L128.0,434.9 L126.5,424.4 L126.0,422.1 L123.5,421.3 L123.0,421.3 L121.5,422.8 L121.0,423.8 L119.5,432.2 L118.0,445.7 L116.0,449.7 L113.0,454.7 L109.0,458.7 L105.0,459.8 L101.5,461.9 L99.0,461.9 L98.5,461.7 L95.5,457.5 L93.5,452.7 L92.5,452.4 L92.0,453.1 L90.5,458.9 L88.5,460.9 L86.5,458.9 L84.5,452.9 L82.0,451.7 L81.0,468.2 L79.5,469.9 L76.5,472.0 L76.0,471.9 L69.0,466.6 L65.0,466.0Z" fill="#003298"/>
<g style="will-change:transform" opacity="0.999"><text transform="translate(47.6,36.5) scale(1.06,1)" text-anchor="end" font-family="Liberation Sans, sans-serif" font-size="20" fill="#000" stroke="#8c8c8c" stroke-width="0.6" stroke-dasharray="1.6 1.1">100</text><text transform="translate(47.6,163.0) scale(1.06,1)" text-anchor="end" font-family="Liberation Sans, sans-serif" font-size="20" fill="#000" stroke="#8c8c8c" stroke-width="0.6" stroke-dasharray="1.6 1.1">75</text><text transform="translate(47.6,289.5) scale(1.06,1)" text-anchor="end" font-family="Liberation Sans, sans-serif" font-size="20" fill="#000" stroke="#8c8c8c" stroke-width="0.6" stroke-dasharray="1.6 1.1">50</text><text transform="translate(47.6,416.0) scale(1.06,1)" text-anchor="end" font-family="Liberation Sans, sans-serif" font-size="20" fill="#000" stroke="#8c8c8c" stroke-width="0.6" stroke-dasharray="1.6 1.1">25</text><text transform="translate(47.6,543.2) scale(1.06,1)" text-anchor="end" font-family="Liberation Sans, sans-serif" font-size="20" fill="#000" stroke="#8c8c8c" stroke-width="0.6" stroke-dasharray="1.6 1.1">0</text><text transform="translate(65.9,567.0) scale(1.06,1)" text-anchor="middle" font-family="Liberation Sans, sans-serif" font-size="20" fill="#000" stroke="#8c8c8c" stroke-width="0.6" stroke-dasharray="1.6 1.1">2007</text><text transform="translate(158.9,567.0) scale(1.06,1)" text-anchor="middle" font-family="Liberation Sans, sans-serif" font-size="20" fill="#000" stroke="#8c8c8c" stroke-width="0.6" stroke-dasharray="1.6 1.1">2008</text><text transform="translate(252.9,567.0) scale(1.06,1)" text-anchor="middle" font-family="Liberation Sans, sans-serif" font-size="20" fill="#000" stroke="#8c8c8c" stroke-width="0.6" stroke-dasharray="1.6 1.1">2009</text><text transform="translate(346.7,567.0) scale(1.06,1)" text-anchor="middle" font-family="Liberation Sans, sans-serif" font-size="20" fill="#000" stroke="#8c8c8c" stroke-width="0.6" stroke-dasharray="1.6 1.1">2010</text><text transform="translate(439.8,567.0) scale(1.06,1)" text-anchor="middle" font-family="Liberation Sans, sans-serif" font-size="20" fill="#000" stroke="#8c8c8c" stroke-width="0.6" stroke-dasharray="1.6 1.1">2011</text><text transform="translate(533.7,567.0) scale(1.06,1)" text-anchor="middle" font-family="Liberation Sans, sans-serif" font-size="20" fill="#000" stroke="#8c8c8c" stroke-width="0.6" stroke-dasharray="1.6 1.1">2012</text><text transform="translate(627.9,567.0) scale(1.06,1)" text-anchor="middle" font-family="Liberation Sans, sans-serif" font-size="20" fill="#000" stroke="#8c8c8c" stroke-width="0.6" stroke-dasharray="1.6 1.1">2013</text><text transform="translate(720.8,567.0) scale(1.06,1)" text-anchor="middle" font-family="Liberation Sans, sans-serif" font-size="20" fill="#000" stroke="#8c8c8c" stroke-width="0.6" stroke-dasharray="1.6 1.1">2014</text><text transform="translate(814.9,567.0) scale(1.06,1)" text-anchor="middle" font-family="Liberation Sans, sans-serif" font-size="20" fill="#000" stroke="#8c8c8c" stroke-width="0.6" stroke-dasharray="1.6 1.1">2015</text><text transform="translate(908.4,567.0) scale(1.06,1)" text-anchor="middle" font-family="Liberation Sans, sans-serif" font-size="20" fill="#000" stroke="#8c8c8c" stroke-width="0.6" stroke-dasharray="1.6 1.1">2016</text><text transform="translate(1001.7,567.0) scale(1.06,1)" text-anchor="middle" font-family="Liberation Sans, sans-serif" font-size="20" fill="#000" stroke="#8c8c8c" stroke-width="0.6" stroke-dasharray="1.6 1.1">2017</text><text transform="translate(1095.8,567.0) scale(1.06,1)" text-anchor="middle" font-family="Liberation Sans, sans-serif" font-size="20" fill="#000" stroke="#8c8c8c" stroke-width="0.6" stroke-dasharray="1.6 1.1">2018</text><text transform="translate(1189.4,567.0) scale(1.06,1)" text-anchor="middle" font-family="Liberation Sans, sans-serif" font-size="20" fill="#000" stroke="#8c8c8c" stroke-width="0.6" stroke-dasharray="1.6 1.1">2019</text></g>
</svg>
</body></html>
